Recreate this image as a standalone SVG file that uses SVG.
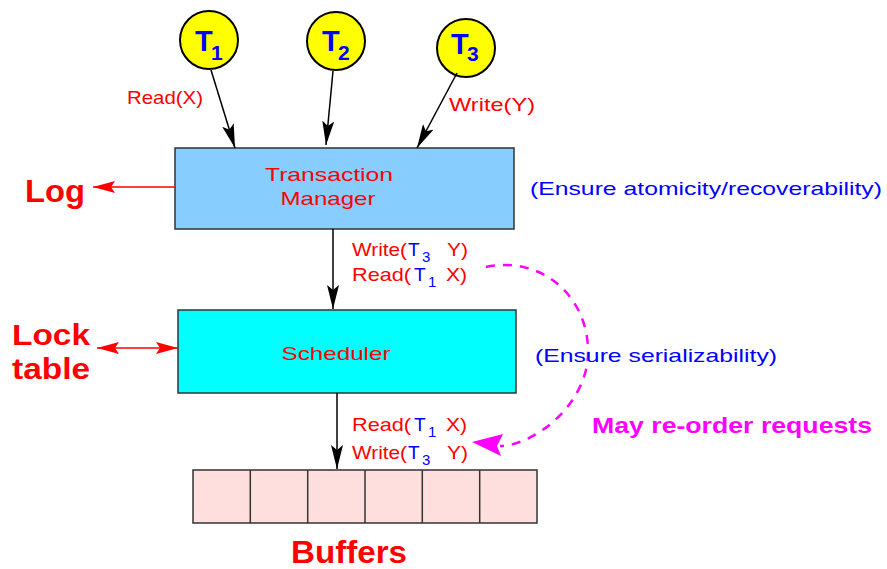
<svg xmlns="http://www.w3.org/2000/svg" width="887" height="569" viewBox="0 0 887 569">
<style>
text{font-family:"Liberation Sans",Arial,sans-serif}
.red{fill:#ff0000}
.blue{fill:#0000ff}
.lbl{font-size:18.5px}
.big{font-size:32px;font-weight:bold;fill:#ff0000}
.lt{font-size:29px;font-weight:bold;fill:#ff0000}
.tn{font-size:29px;font-weight:bold;fill:#0000ff}
.ts{font-size:21px;font-weight:bold;fill:#0000ff}
.sub{font-size:15px;fill:#0000ff}
.node{stroke:#333;stroke-width:1.5}
.circ{fill:#ffff00;stroke:#000;stroke-width:2}
.blk{stroke:#000;stroke-width:1.5;fill:none}
.rl{stroke:#ff0000;stroke-width:1.5;fill:none}
</style>
<defs>
<marker id="ab" markerUnits="userSpaceOnUse" viewBox="0 0 24 12" refX="24" refY="6" markerWidth="24" markerHeight="12" orient="auto">
<path d="M0,0 L24,6 L0,12 L5,6 z" fill="#000"/>
</marker>
<marker id="ar" markerUnits="userSpaceOnUse" viewBox="0 0 22 12" refX="22" refY="6" markerWidth="22" markerHeight="12" orient="auto">
<path d="M0,0 L22,6 L0,12 L4,6 z" fill="#ff0000"/>
</marker>
<marker id="ars" markerUnits="userSpaceOnUse" viewBox="0 0 22 12" refX="22" refY="6" markerWidth="22" markerHeight="12" orient="auto-start-reverse">
<path d="M0,0 L22,6 L0,12 L4,6 z" fill="#ff0000"/>
</marker>
</defs>

<g id="T1">
<circle class="circ" cx="209" cy="40" r="29"/>
<text x="195" y="51" class="tn">T</text><text x="211" y="60" class="ts">1</text>
</g>
<g id="T2">
<circle class="circ" cx="336" cy="41" r="29"/>
<text x="322" y="51" class="tn">T</text><text x="338" y="60" class="ts">2</text>
</g>
<g id="T3">
<circle class="circ" cx="466" cy="48" r="29"/>
<text x="451" y="54" class="tn">T</text><text x="467" y="61" class="ts">3</text>
</g>

<g id="TM">
<rect class="node" x="175" y="148" width="339" height="81" fill="#87ceff"/>
<text x="329" y="181" class="lbl red" text-anchor="middle" textLength="128" lengthAdjust="spacingAndGlyphs">Transaction</text>
<text x="328" y="205" class="lbl red" text-anchor="middle" textLength="95" lengthAdjust="spacingAndGlyphs">Manager</text>
</g>

<g id="Scheduler">
<rect class="node" x="178" y="310" width="338" height="83" fill="#00ffff"/>
<text x="336" y="360" class="lbl red" text-anchor="middle" textLength="109" lengthAdjust="spacingAndGlyphs">Scheduler</text>
</g>

<g id="Buffers">
<rect class="node" x="193" y="470" width="344" height="53" fill="#ffdede"/>
<path class="node" d="M250.3,470V523M307.7,470V523M365,470V523M422.3,470V523M479.7,470V523"/>
<text x="349" y="563" class="big" text-anchor="middle" textLength="116" lengthAdjust="spacingAndGlyphs">Buffers</text>
</g>

<g id="Log">
<text x="25" y="202" class="big" textLength="60" lengthAdjust="spacingAndGlyphs">Log</text>
</g>

<g id="LockTable">
<text x="12" y="345" class="lt" textLength="78" lengthAdjust="spacingAndGlyphs">Lock</text>
<text x="12" y="379" class="lt" textLength="78" lengthAdjust="spacingAndGlyphs">table</text>
</g>

<g id="connectors">
<line class="blk" x1="211" y1="70" x2="235" y2="148" marker-end="url(#ab)"/>
<line class="blk" x1="333" y1="71" x2="326" y2="145" marker-end="url(#ab)"/>
<line class="blk" x1="457" y1="73" x2="417" y2="148" marker-end="url(#ab)"/>
<line class="blk" x1="333" y1="229" x2="333" y2="309" marker-end="url(#ab)"/>
<line class="blk" x1="337" y1="393" x2="337" y2="469" marker-end="url(#ab)"/>
<line class="rl" x1="175" y1="187" x2="93" y2="187" marker-end="url(#ar)"/>
<line class="rl" x1="97" y1="348" x2="178" y2="348" marker-start="url(#ars)" marker-end="url(#ar)"/>
<path d="M486,267 C545,255 590,300 588,355 C586,405 535,445 500,446" fill="none" stroke="#ff00ff" stroke-width="2.5" stroke-dasharray="9,8"/>
<path d="M472,442 L503,434 L497,446 L501,456 z" fill="#ff00ff"/>
</g>

<g id="labels">
<text x="127" y="104" class="lbl red" textLength="76" lengthAdjust="spacingAndGlyphs">Read(X)</text>
<text x="449" y="111" class="lbl red" textLength="86" lengthAdjust="spacingAndGlyphs">Write(Y)</text>

<text y="256" class="lbl"><tspan x="352" class="red" textLength="55" lengthAdjust="spacingAndGlyphs">Write(</tspan><tspan x="408" class="blue" font-size="19">T</tspan><tspan x="422" y="262" class="sub">3</tspan><tspan x="447" y="256" class="red" textLength="21" lengthAdjust="spacingAndGlyphs">Y)</tspan></text>
<text y="281" class="lbl"><tspan x="352" class="red" textLength="59" lengthAdjust="spacingAndGlyphs">Read(</tspan><tspan x="414" class="blue" font-size="19">T</tspan><tspan x="428" y="287" class="sub">1</tspan><tspan x="446" y="281" class="red" textLength="21" lengthAdjust="spacingAndGlyphs">X)</tspan></text>

<text y="431" class="lbl"><tspan x="352" class="red" textLength="59" lengthAdjust="spacingAndGlyphs">Read(</tspan><tspan x="414" class="blue" font-size="19">T</tspan><tspan x="428" y="437" class="sub">1</tspan><tspan x="446" y="431" class="red" textLength="21" lengthAdjust="spacingAndGlyphs">X)</tspan></text>
<text y="459" class="lbl"><tspan x="352" class="red" textLength="55" lengthAdjust="spacingAndGlyphs">Write(</tspan><tspan x="408" class="blue" font-size="19">T</tspan><tspan x="422" y="465" class="sub">3</tspan><tspan x="447" y="459" class="red" textLength="21" lengthAdjust="spacingAndGlyphs">Y)</tspan></text>

<text x="530" y="195" class="lbl blue" textLength="352" lengthAdjust="spacingAndGlyphs">(Ensure atomicity/recoverability)</text>
<text x="535" y="362" class="lbl blue" textLength="242" lengthAdjust="spacingAndGlyphs">(Ensure serializability)</text>
<text x="592" y="433" font-size="22" font-weight="bold" fill="#ff00ff" textLength="280" lengthAdjust="spacingAndGlyphs">May re-order requests</text>
</g>
</svg>
